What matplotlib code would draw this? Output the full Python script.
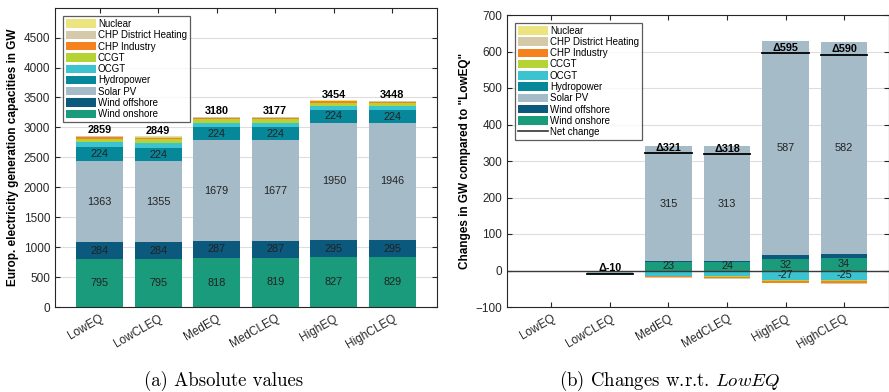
import matplotlib
matplotlib.use("Agg")
import matplotlib.pyplot as plt
from matplotlib.patches import Patch
from matplotlib.lines import Line2D
import numpy as np

plt.rcParams['font.family'] = ['Liberation Sans', 'DejaVu Sans']
plt.rcParams['mathtext.fontset'] = 'cm'

scenarios = ["LowEQ", "LowCLEQ", "MedEQ", "MedCLEQ", "HighEQ", "HighCLEQ"]
techs = ["Wind onshore", "Wind offshore", "Solar PV", "Hydropower", "OCGT",
         "CCGT", "CHP Industry", "CHP District Heating", "Nuclear"]
colors = ["#1a9b7b", "#0b5a7e", "#a6bbc8", "#07879a", "#3bc3cf",
          "#b6d336", "#f5821f", "#d6c9aa", "#ebe47f"]

# Absolute capacities in GW (rows: techs, cols: scenarios)
wind_onshore  = [795, 795, 818, 819, 827, 829]
wind_offshore = [284, 284, 287, 287, 295, 295]
solar_pv      = [1363, 1355, 1679, 1677, 1950, 1946]
hydropower    = [224, 224, 224, 224, 224, 224]
ocgt          = [85, 84, 71, 71, 58, 58]
ccgt          = [60, 59, 58, 57, 58, 57]
chp_industry  = [28, 28, 25, 24, 23, 21]
chp_district  = [10, 10, 8, 8, 9, 8]
nuclear       = [10, 10, 10, 10, 10, 10]

# Changes compared to LowEQ in GW
d_wind_onshore  = [0, 0, 23, 24, 32, 34]
d_wind_offshore = [0, 0, 3, 3, 11, 11]
d_solar_pv      = [0, -8, 315, 313, 587, 582]
d_hydropower    = [0, 0, 0, 0, 0, 0]
d_ocgt          = [0, -1, -14, -14, -27, -25]
d_ccgt          = [0, -1, -2, -3, -2, -3]
d_chp_industry  = [0, 0, -3, -4, -5, -7]
d_chp_district  = [0, 0, -1, -1, -1, -2]
d_nuclear       = [0, 0, 0, 0, 0, 0]

absolute = np.array([wind_onshore, wind_offshore, solar_pv, hydropower, ocgt,
                     ccgt, chp_industry, chp_district, nuclear], dtype=float)
changes = np.array([d_wind_onshore, d_wind_offshore, d_solar_pv, d_hydropower,
                    d_ocgt, d_ccgt, d_chp_industry, d_chp_district, d_nuclear],
                   dtype=float)

W, H = 889, 392
fig = plt.figure(figsize=(W / 100, H / 100), dpi=100)
ax1 = fig.add_axes([55 / W, 1 - 307 / H, 382 / W, (307 - 8.3) / H])
ax2 = fig.add_axes([507 / W, 1 - 307 / H, 381.5 / W, (307 - 15) / H])

x = np.arange(1, len(scenarios) + 1)
bw = 0.8
txtc = "#222222"


def style(ax, ylim, yticks, ylabel):
    ax.set_xlim(0.24, 6.76)
    ax.set_ylim(*ylim)
    ax.set_yticks(yticks)
    ax.set_xticks(x)
    ax.set_xticklabels(scenarios, rotation=30, ha='right',
                       rotation_mode='anchor', fontsize=8.5)
    ax.tick_params(axis='y', labelsize=8.5)
    ax.tick_params(direction='in', top=True, right=True, length=3.5,
                   width=0.8, colors='#262626', labelcolor='#262626')
    ax.tick_params(axis='x', pad=4)
    ax.yaxis.grid(True, color='#dedede', linewidth=0.8)
    ax.set_axisbelow(True)
    for s in ax.spines.values():
        s.set_color('#262626')
        s.set_linewidth(0.8)
    ax.set_ylabel(ylabel, fontsize=8.5, fontweight='bold', labelpad=3)


# ---- Panel (a)
bottom = np.zeros(len(scenarios))
for i, t in enumerate(techs):
    vals = absolute[i]
    ax1.bar(x, vals, bw, bottom=bottom, color=colors[i], edgecolor='none',
            zorder=2)
    if i <= 3:
        for xi, b, v in zip(x, bottom, vals):
            ax1.text(xi, b + v / 2, f"{v:.0f}", ha='center', va='center',
                     fontsize=7.8, color=txtc, zorder=3)
    bottom += vals
for xi, tot in zip(x, bottom):
    ax1.text(xi, tot + 12, f"{tot:.0f}", ha='center', va='bottom',
             fontsize=7.8, fontweight='bold', color='black', zorder=3)
style(ax1, (0, 4990), np.arange(0, 4501, 500),
      "Europ. electricity generation capacities in GW")

handles = [Patch(facecolor=colors[i], edgecolor='none', label=techs[i])
           for i in range(len(techs) - 1, -1, -1)]
leg_kw = dict(loc='upper left', fontsize=7, frameon=True, fancybox=False,
              handlelength=3.1, handleheight=0.95, labelspacing=0.13,
              handletextpad=0.2, borderpad=0.3, borderaxespad=0.8)
leg1 = ax1.legend(handles=handles, **leg_kw)
leg1.get_frame().set_edgecolor('#333333')
leg1.get_frame().set_linewidth(0.9)
leg1.set_zorder(5)

# ---- Panel (b)
pos_b = np.zeros(len(scenarios))
neg_b = np.zeros(len(scenarios))
for i, t in enumerate(techs):
    vals = changes[i]
    bot = np.where(vals >= 0, pos_b, neg_b)
    ax2.bar(x, vals, bw, bottom=bot, color=colors[i], edgecolor='none',
            zorder=2)
    for xi, b, v in zip(x, bot, vals):
        if abs(v) >= 20:
            ax2.text(xi, b + v / 2, f"{v:.0f}", ha='center', va='center',
                     fontsize=7.8, color=txtc, zorder=3)
    pos_b += np.where(vals >= 0, vals, 0)
    neg_b += np.where(vals < 0, vals, 0)
net = changes.sum(axis=0)
ax2.axhline(0, color='#3a3a3a', linewidth=1.0, zorder=2.5)
for xi, n in zip(x, net):
    if xi == 1:
        continue
    ax2.plot([xi - bw / 2, xi + bw / 2], [n, n], color='black', lw=1.3,
             zorder=4)
    ax2.text(xi, n + 2, f"\u0394{n:.0f}", ha='center', va='bottom',
             fontsize=7.8, fontweight='bold', color='black', zorder=4)
style(ax2, (-100, 700), np.arange(-100, 701, 100),
      'Changes in GW compared to "LowEQ"')

handles2 = handles + [Line2D([0], [0], color='#333333', lw=1.2,
                             label='Net change')]
leg2 = ax2.legend(handles=handles2, **leg_kw)
leg2.get_frame().set_edgecolor('#333333')
leg2.get_frame().set_linewidth(0.9)
leg2.set_zorder(5)

# ---- captions
fig.text(224 / W, 1 - 381 / H, "(a) Absolute values",
         ha='center', va='center', fontsize=13.5, family='cmr10')
fig.text(670 / W, 1 - 381 / H,
         r"(b) Changes w.r.t. $\mathit{LowEQ}$",
         ha='center', va='center', fontsize=13.5, family='cmr10')

fig.savefig("out.png", dpi=100)
